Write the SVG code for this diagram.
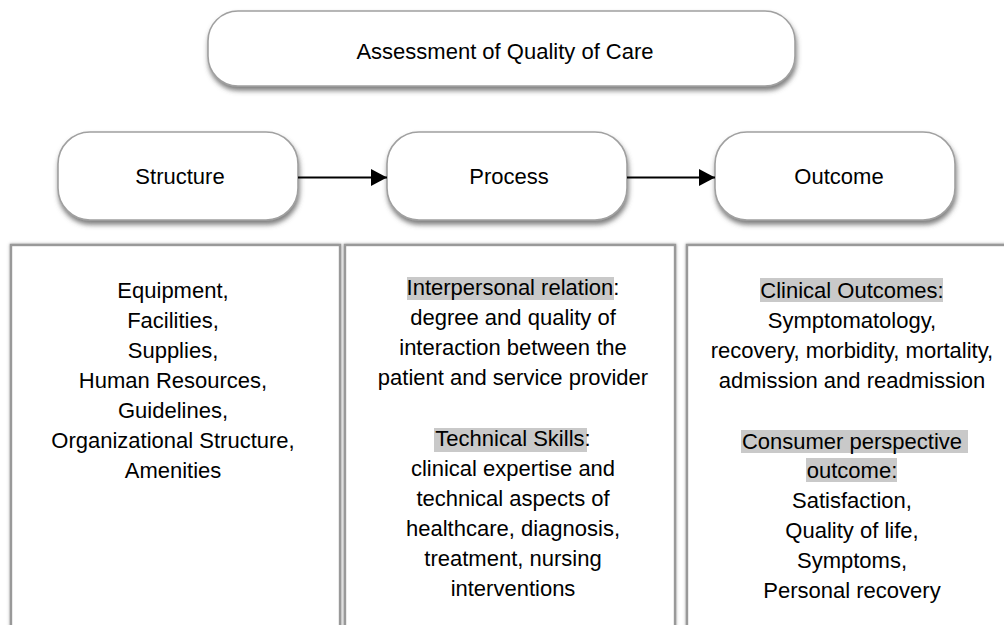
<svg xmlns="http://www.w3.org/2000/svg" width="1004" height="625" viewBox="0 0 1004 625">
  <style>
    text { font-family: "Liberation Sans", Arial, sans-serif; font-size: 22px; fill: #000; text-anchor: middle; }
    .pill { fill: #fff; stroke: #a0a0a0; stroke-width: 1.6; filter: url(#pillShadow); }
    .panel { fill: #fff; stroke: #999; stroke-width: 2.4; filter: url(#panelShadow); }
    .hl { fill: #c9c9c9; }
    .conn { stroke: #000; stroke-width: 2.2; fill: none; marker-end: url(#arrow); }
  </style>
  <defs>
    <filter id="pillShadow" x="-10%" y="-20%" width="120%" height="150%">
      <feDropShadow dx="1" dy="4" stdDeviation="2.5" flood-color="#555" flood-opacity="0.75"/>
    </filter>
    <filter id="panelShadow" x="-5%" y="-5%" width="110%" height="110%">
      <feDropShadow dx="0" dy="0" stdDeviation="1.8" flood-color="#888" flood-opacity="0.8"/>
    </filter>
    <marker id="arrow" viewBox="0 0 16 17" refX="16" refY="8.5" markerWidth="16" markerHeight="17" markerUnits="userSpaceOnUse" orient="auto">
      <path d="M0,0 L16,8.5 L0,17 Z" fill="#000"/>
    </marker>
  </defs>

  <!-- Title -->
  <g id="title">
    <rect class="pill" x="208" y="11" width="587" height="75" rx="30"/>
    <text x="505" y="59">Assessment of Quality of Care</text>
  </g>

  <!-- Stage nodes -->
  <g id="structure">
    <rect class="pill" x="58" y="132" width="240" height="88" rx="32"/>
    <text x="180" y="184">Structure</text>
  </g>
  <g id="process">
    <rect class="pill" x="387" y="132" width="240" height="88" rx="32"/>
    <text x="509" y="184">Process</text>
  </g>
  <g id="outcome">
    <rect class="pill" x="715" y="132" width="240" height="88" rx="32"/>
    <text x="839" y="184">Outcome</text>
  </g>

  <!-- Connectors -->
  <g id="connectors">
    <line class="conn" x1="298" y1="177.5" x2="387" y2="177.5"/>
    <line class="conn" x1="627" y1="177.5" x2="715" y2="177.5"/>
  </g>

  <!-- Structure details -->
  <g id="structure-details">
    <rect class="panel" x="11" y="245" width="329" height="400"/>
    <text x="173" y="298">Equipment,</text>
    <text x="173" y="328">Facilities,</text>
    <text x="173" y="358">Supplies,</text>
    <text x="173" y="388">Human Resources,</text>
    <text x="173" y="418">Guidelines,</text>
    <text x="173" y="448">Organizational Structure,</text>
    <text x="173" y="478">Amenities</text>
  </g>

  <!-- Process details -->
  <g id="process-details">
    <rect class="panel" x="345" y="245" width="330" height="400"/>
    <rect class="hl" x="407" y="277" width="207" height="23"/>
    <rect class="hl" x="434" y="428" width="153" height="24"/>
    <text x="513" y="295">Interpersonal relation:</text>
    <text x="513" y="325">degree and quality of</text>
    <text x="513" y="355">interaction between the</text>
    <text x="513" y="385">patient and service provider</text>
    <text x="513" y="446">Technical Skills:</text>
    <text x="513" y="476">clinical expertise and</text>
    <text x="513" y="506">technical aspects of</text>
    <text x="513" y="536">healthcare, diagnosis,</text>
    <text x="513" y="566">treatment, nursing</text>
    <text x="513" y="596">interventions</text>
  </g>

  <!-- Outcome details -->
  <g id="outcome-details">
    <rect class="panel" x="687" y="245" width="330" height="400"/>
    <rect class="hl" x="760" y="278" width="183" height="24"/>
    <rect class="hl" x="741" y="430" width="227" height="23"/>
    <rect class="hl" x="806" y="458" width="91" height="24"/>
    <text x="852" y="298">Clinical Outcomes:</text>
    <text x="852" y="328">Symptomatology,</text>
    <text x="852" y="358">recovery, morbidity, mortality,</text>
    <text x="852" y="388">admission and readmission</text>
    <text x="852" y="449">Consumer perspective</text>
    <text x="852" y="478">outcome:</text>
    <text x="852" y="508">Satisfaction,</text>
    <text x="852" y="538">Quality of life,</text>
    <text x="852" y="568">Symptoms,</text>
    <text x="852" y="598">Personal recovery</text>
  </g>
</svg>
